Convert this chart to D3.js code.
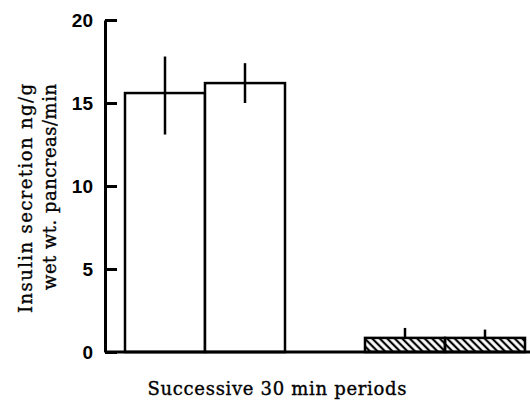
<!DOCTYPE html>
<html>
<head>
<meta charset="utf-8">
<script src="https://cdn.jsdelivr.net/npm/d3@7"></script>
<style>
  body { margin: 0; background: #fff; }
</style>
</head>
<body>
<div id="chart"></div>
<script>
// Data
let periods = [1, 2, 3, 4, 5];
let insulin = [15.6, 16.2, null, 0.85, 0.85];
let errHigh = [17.8, 17.4, null, 1.45, 1.35];
let errLow = [13.1, 15.0, null, 0.85, 0.85];
let hatched = [false, false, false, true, true];
let yTicks = [0, 5, 10, 15, 20];

let W = 530, H = 402;
let axisX = 105;

let svg = d3.select("#chart")
  .append("svg")
  .attr("width", W)
  .attr("height", H);

// hatch pattern for the second group ("\" direction)
let defs = svg.append("defs");
defs.append("pattern")
  .attr("id", "hatch")
  .attr("patternUnits", "userSpaceOnUse")
  .attr("width", 5.3)
  .attr("height", 5.3)
  .attr("patternTransform", "rotate(-45)")
  .append("line")
  .attr("x1", 2.65).attr("y1", 0)
  .attr("x2", 2.65).attr("y2", 5.3)
  .attr("stroke", "#000")
  .attr("stroke-width", 2.2);

let x = d3.scaleBand()
  .domain(periods)
  .range([125, 525])
  .padding(0);

let y = d3.scaleLinear()
  .domain([0, 20])
  .range([352, 20]);

let rows = periods.map((p, i) => ({
  p: p, v: insulin[i], hi: errHigh[i], lo: errLow[i], hatch: hatched[i]
})).filter(d => d.v != null);

// Bars
svg.selectAll("rect.bar")
  .data(rows)
  .enter().append("rect")
  .attr("class", "bar")
  .attr("x", d => x(d.p))
  .attr("y", d => y(d.v))
  .attr("width", x.bandwidth())
  .attr("height", d => y(0) - y(d.v))
  .attr("fill", d => d.hatch ? "url(#hatch)" : "#fff")
  .attr("stroke", "#000")
  .attr("stroke-width", 2.5);

// Error bars
svg.selectAll("line.err")
  .data(rows)
  .enter().append("line")
  .attr("class", "err")
  .attr("x1", d => x(d.p) + x.bandwidth() / 2)
  .attr("x2", d => x(d.p) + x.bandwidth() / 2)
  .attr("y1", d => y(d.hi))
  .attr("y2", d => y(d.lo))
  .attr("stroke", "#000")
  .attr("stroke-width", 2.5);

// Baseline
svg.append("line")
  .attr("x1", axisX)
  .attr("x2", W)
  .attr("y1", y(0))
  .attr("y2", y(0))
  .attr("stroke", "#000")
  .attr("stroke-width", 3);

// Y axis, ticks point inward
let yAxis = svg.append("g")
  .attr("transform", "translate(" + axisX + ",0)")
  .call(d3.axisLeft(y)
    .tickValues(yTicks)
    .tickFormat(d3.format("d"))
    .tickSizeInner(-12)
    .tickSizeOuter(0)
    .tickPadding(12));

yAxis.select(".domain")
  .attr("stroke-width", 3);
yAxis.selectAll(".tick line")
  .attr("stroke-width", 3);
yAxis.selectAll(".tick text")
  .attr("font-family", "'Liberation Sans', Arial, sans-serif")
  .attr("font-weight", "bold")
  .attr("font-size", 19)
  .attr("fill", "#000");

// Y label (two lines)
let yLab = ["Insulin secretion ng/g", "wet wt. pancreas/min"];
let yLabLen = [229, 206];
svg.selectAll("text.ylab")
  .data(yLab)
  .enter().append("text")
  .attr("class", "ylab")
  .attr("text-anchor", "end")
  .attr("transform", (d, i) => "translate(" + (32 + i * 24) + ",84) rotate(-90)")
  .attr("font-family", "'DejaVu Serif', serif")
  .attr("font-size", 18)
  .attr("textLength", (d, i) => yLabLen[i])
  .attr("lengthAdjust", "spacing")
  .attr("stroke", "#000")
  .attr("stroke-width", 0.35)
  .text(d => d);

// X label
svg.append("text")
  .attr("x", 277)
  .attr("y", 395)
  .attr("text-anchor", "middle")
  .attr("font-family", "'DejaVu Serif', serif")
  .attr("font-size", 18)
  .attr("textLength", 259)
  .attr("lengthAdjust", "spacing")
  .attr("stroke", "#000")
  .attr("stroke-width", 0.35)
  .text("Successive 30 min periods");
</script>
</body>
</html>
